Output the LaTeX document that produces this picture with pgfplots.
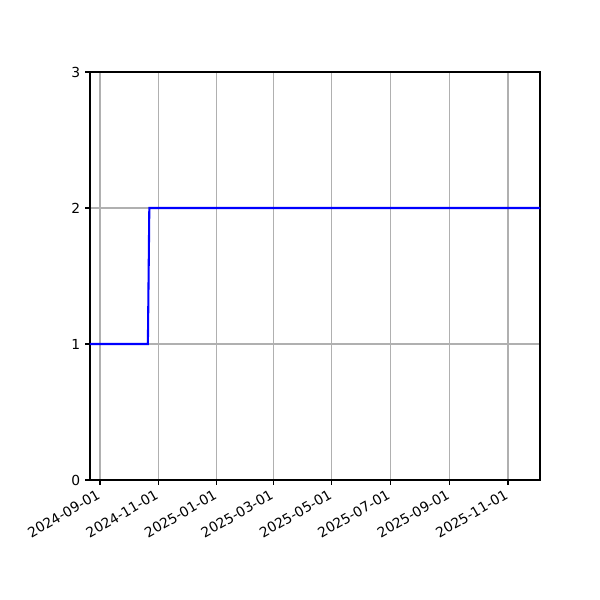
\documentclass[border=0pt]{standalone}
\usepackage{pgfplots}
\pgfplotsset{compat=1.18}
\usepackage{fontspec}
\setmainfont{DejaVu Sans}
\begin{document}
\begin{tikzpicture}
\path[use as bounding box] (-0.9in,-1.2in) rectangle (5.1in,4.8in);
\begin{axis}[
  at={(0,0)}, anchor=south west,
  scale only axis, width=4.5in, height=4.08in,
  xmin=-10.44, xmax=459.4, ymin=0, ymax=3,
  xtick={0,61,122,181,242,303,365,426},
  xticklabels={2024-09-01,2024-11-01,2025-01-01,2025-03-01,2025-05-01,2025-07-01,2025-09-01,2025-11-01},
  ytick={0,1,2,3},
  xticklabel style={rotate=30, anchor=north east, inner sep=1pt, xshift=-3pt, font=\fontsize{10}{12}\selectfont},
  yticklabel style={font=\fontsize{10}{12}\selectfont},
  /pgf/number format/assume math mode=true,
  tick align=outside, tick pos=left,
  major tick length=3.5pt,
  every tick/.style={black, line width=0.8pt},
  axis line style={line width=0.8pt},
  grid=major,
  major grid style={color={rgb,255:red,176;green,176;blue,176}, line width=0.8pt},
  clip=true,
]
\addplot[blue, line width=1.5pt] coordinates {(-10.44,1) (50,1) (51.5,2) (459.4,2)};
\end{axis}
\end{tikzpicture}
\end{document}
